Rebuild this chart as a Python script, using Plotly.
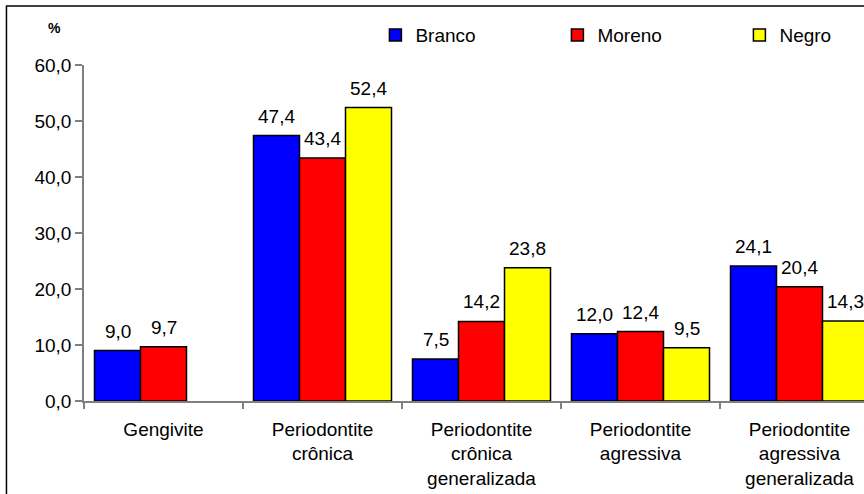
import plotly.graph_objects as go

categories = [
    "Gengivite",
    "Periodontite<br>crônica",
    "Periodontite<br>crônica<br>generalizada",
    "Periodontite<br>agressiva",
    "Periodontite<br>agressiva<br>generalizada",
]
series_names = ["Branco", "Moreno", "Negro"]
branco = [9.0, 47.4, 7.5, 12.0, 24.1]
moreno = [9.7, 43.4, 14.2, 12.4, 20.4]
negro = [None, 52.4, 23.8, 9.5, 14.3]
colors = ["#0000FF", "#FF0000", "#FFFF00"]
y_ticks = [0, 10, 20, 30, 40, 50, 60]

FONT = "Liberation Sans, Arial, sans-serif"
BARGAP = 0.132

fig = go.Figure()
all_series = [branco, moreno, negro]
for name, vals, col in zip(series_names, all_series, colors):
    fig.add_trace(go.Bar(
        name=name, x=list(range(len(categories))), y=vals,
        marker=dict(color=col, line=dict(color="#000000", width=1.5)),
    ))

# value labels
bw = (1 - BARGAP) / 3
annotations = []
for si, vals in enumerate(all_series):
    for ci, v in enumerate(vals):
        if v is None:
            continue
        annotations.append(dict(
            x=ci + (si - 1) * bw, y=v, xref="x", yref="y",
            text=f"{v:.1f}".replace(".", ","), showarrow=False,
            yanchor="bottom", xanchor="center", yshift=7,
            font=dict(family=FONT, size=19, color="#000000"),
        ))
annotations.append(dict(
    x=-0.0372, y=1.1116, xref="paper", yref="paper", text="<b>%</b>",
    showarrow=False, xanchor="center", yanchor="middle",
    font=dict(family=FONT, size=14, color="#000000"),
))

fig.update_layout(
    width=864, height=494,
    margin=dict(l=84, r=0, t=65, b=93, autoexpand=False),
    paper_bgcolor="white", plot_bgcolor="white",
    barmode="group", bargap=BARGAP, bargroupgap=0,
    separators=",.",
    font=dict(family=FONT, size=19, color="#000000"),
    showlegend=True,
    legend=dict(
        orientation="h", x=0.3736, y=1.089, xanchor="left", yanchor="middle",
        font=dict(family=FONT, size=19, color="#000000"),
        entrywidth=137, entrywidthmode="pixels",
        bgcolor="rgba(0,0,0,0)", traceorder="normal",
    ),
    annotations=annotations,
    shapes=[dict(
        type="rect", xref="paper", yref="paper",
        x0=-0.0994, x1=1.05, y0=-0.3, y1=1.1756,
        line=dict(color="#000000", width=1.5), fillcolor="rgba(0,0,0,0)",
        layer="above",
    )],
)
fig.update_xaxes(
    tickmode="array", tickvals=list(range(len(categories))), ticktext=categories,
    range=[-0.5, -0.5 + 780 / 159],
    showline=True, linecolor="#808080", linewidth=1.5,
    ticks="", showgrid=False, zeroline=False, automargin=False,
    ticklabelstandoff=10,
    tickfont=dict(family=FONT, size=19),
)
# boundary ticks via minor ticks
fig.update_xaxes(minor=dict(tickmode="array", tickvals=[i - 0.5 for i in range(len(categories) + 1)],
                            ticks="outside", ticklen=6, tickcolor="#808080", tickwidth=1.5))
fig.update_yaxes(
    range=[0, 60], tickvals=y_ticks, tickformat=".1f",
    showline=True, linecolor="#808080", linewidth=1.5,
    ticks="outside", ticklen=7, tickcolor="#808080", tickwidth=1.5,
    showgrid=False, zeroline=False, automargin=False,
    tickfont=dict(family=FONT, size=19),
)

fig.write_html("out.html")
